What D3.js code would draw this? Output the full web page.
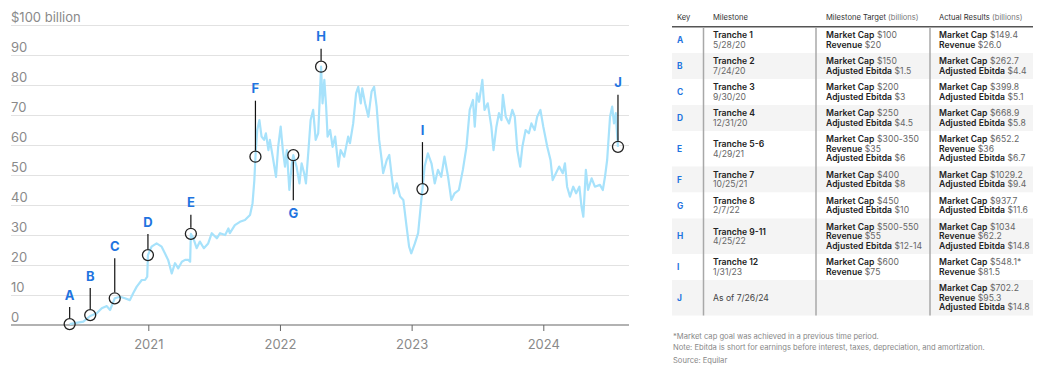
<!DOCTYPE html>
<html>
<head>
<meta charset="utf-8">
<script src="https://cdn.jsdelivr.net/npm/d3@7"></script>
<style>
  body { margin: 0; background: #fff; }
  svg text { font-family: Inter, "Liberation Sans", sans-serif; }
</style>
</head>
<body>
<div class="viz"></div>
<script>
//////////////////////////
// Data
//////////////////////////

// line series, values in the chart's y units
const seriesDates = [
    '2020-05-28', '2020-06-11', '2020-07-05', '2020-07-24', '2020-08-11', '2020-08-25', '2020-09-08', '2020-09-17', '2020-09-30',
    '2020-10-15', '2020-10-28', '2020-11-11', '2020-11-20', '2020-11-30', '2020-12-14', '2020-12-23', '2020-12-29', '2020-12-31',
    '2021-01-10', '2021-01-24', '2021-02-07', '2021-02-16', '2021-02-25', '2021-03-07', '2021-03-16', '2021-03-25', '2021-04-04',
    '2021-04-13', '2021-04-22', '2021-04-27', '2021-04-29', '2021-05-06', '2021-05-15', '2021-05-24', '2021-06-04', '2021-06-16',
    '2021-06-26', '2021-07-10', '2021-07-19', '2021-08-02', '2021-08-11', '2021-08-15', '2021-08-29', '2021-09-12', '2021-09-26',
    '2021-10-10', '2021-10-17', '2021-10-22', '2021-10-25', '2021-10-30', '2021-11-05', '2021-11-11', '2021-11-18', '2021-11-23',
    '2021-11-30', '2021-12-04', '2021-12-12', '2021-12-21', '2021-12-27', '2022-01-03', '2022-01-09', '2022-01-15', '2022-01-20',
    '2022-01-27', '2022-02-03', '2022-02-07', '2022-02-16', '2022-02-24', '2022-03-02', '2022-03-09', '2022-03-14', '2022-03-21',
    '2022-03-27', '2022-04-03', '2022-04-10', '2022-04-17', '2022-04-25', '2022-04-29', '2022-05-04', '2022-05-09', '2022-05-13',
    '2022-05-20', '2022-05-27', '2022-06-03', '2022-06-12', '2022-06-18', '2022-06-28', '2022-07-09', '2022-07-14', '2022-07-23',
    '2022-07-31', '2022-08-06', '2022-08-13', '2022-08-17', '2022-08-25', '2022-09-03', '2022-09-12', '2022-09-19', '2022-09-26',
    '2022-10-03', '2022-10-10', '2022-10-14', '2022-10-24', '2022-10-31', '2022-11-07', '2022-11-13', '2022-11-21', '2022-11-30',
    '2022-12-09', '2022-12-18', '2022-12-25', '2022-12-31', '2023-01-10', '2023-01-19', '2023-01-26', '2023-01-31', '2023-02-06',
    '2023-02-15', '2023-02-25', '2023-03-06', '2023-03-15', '2023-03-24', '2023-04-02', '2023-04-12', '2023-04-21', '2023-04-30',
    '2023-05-12', '2023-05-23', '2023-06-02', '2023-06-11', '2023-06-20', '2023-06-25', '2023-07-01', '2023-07-07', '2023-07-16',
    '2023-07-22', '2023-07-31', '2023-08-10', '2023-08-16', '2023-08-24', '2023-08-31', '2023-09-07', '2023-09-11', '2023-09-19',
    '2023-09-28', '2023-10-07', '2023-10-14', '2023-10-21', '2023-10-29', '2023-11-04', '2023-11-13', '2023-11-22', '2023-11-29',
    '2023-12-08', '2023-12-15', '2023-12-24', '2024-01-01', '2024-01-12', '2024-01-21', '2024-01-27', '2024-02-05', '2024-02-14',
    '2024-02-24', '2024-03-01', '2024-03-07', '2024-03-15', '2024-03-24', '2024-04-01', '2024-04-10', '2024-04-16', '2024-04-21',
    '2024-04-28', '2024-05-04', '2024-05-14', '2024-05-23', '2024-06-06', '2024-06-14', '2024-06-20', '2024-06-26', '2024-07-04',
    '2024-07-10', '2024-07-15', '2024-07-20', '2024-07-24', '2024-07-26'
];
const seriesValues = [
    0.3, 0.6, 1.1, 3.0, 3.9, 5.6, 6.3, 5.0, 8.9,
    9.4, 8.9, 8.3, 10.6, 12.8, 15.0, 15.0, 16.1, 23.3,
    26.1, 27.2, 26.1, 23.9, 21.7, 17.2, 20.6, 18.9, 21.1,
    21.7, 21.7, 21.1, 30.4, 28.9, 25.6, 27.8, 25.6, 27.2,
    30.6, 28.9, 30.6, 30.0, 32.2, 30.6, 33.3, 34.4, 35.0,
    36.7, 40.6, 48.3, 56.1, 65.0, 68.3, 62.8, 61.7, 63.9,
    58.3, 61.7, 56.1, 49.4, 59.4, 66.1, 58.3, 52.8, 58.3,
    45.0, 53.9, 56.6, 52.8, 47.2, 53.9, 50.6, 47.2, 58.3,
    68.3, 71.7, 61.7, 63.9, 86.1, 73.9, 81.7, 72.8, 62.8,
    65.0, 59.4, 62.8, 52.8, 58.3, 56.1, 62.8, 60.6, 67.2,
    77.2, 79.4, 73.9, 78.9, 73.9, 69.4, 77.8, 79.4, 72.8,
    61.7, 55.0, 50.6, 55.0, 56.7, 49.4, 43.9, 47.2, 42.8,
    41.7, 32.8, 26.1, 23.9, 27.2, 30.6, 39.4, 45.3, 52.8,
    57.2, 53.9, 47.2, 51.7, 49.4, 56.1, 49.4, 41.7, 43.9,
    45.0, 51.7, 59.4, 71.7, 75.0, 66.1, 77.2, 74.4, 81.7,
    71.7, 73.9, 66.1, 58.3, 66.1, 70.6, 68.3, 76.7, 69.4,
    67.2, 71.7, 69.4, 58.3, 52.8, 59.4, 65.0, 63.9, 67.2,
    65.0, 69.4, 71.7, 66.1, 59.4, 55.0, 48.3, 50.6, 52.8,
    50.6, 53.9, 46.1, 42.8, 46.1, 43.9, 46.1, 39.4, 36.1,
    51.7, 45.0, 48.9, 46.1, 46.7, 45.0, 49.4, 55.0, 69.4,
    72.8, 67.2, 70.6, 62.8, 59.4
];

// milestones marked on the line
const milestoneKeys = ['A', 'B', 'C', 'D', 'E', 'F', 'G', 'H', 'I', 'J'];
const milestoneDates = ['2020-05-28', '2020-07-24', '2020-09-30', '2020-12-31', '2021-04-29',
    '2021-10-25', '2022-02-07', '2022-04-25', '2023-01-31', '2024-07-26'];
const milestoneValues = [0.3, 3.3, 8.9, 23.3, 30.4, 56.1, 56.6, 86.1, 45.3, 59.4];

// axis ticks
const yTicks = [0, 10, 20, 30, 40, 50, 60, 70, 80, 90, 100];
const yTopLabel = '$100 billion';
const xTickYears = [2021, 2022, 2023, 2024];

// table
const tableHeaders = ['Key', 'Milestone', 'Milestone Target', 'Actual Results'];
const trancheNames = ['Tranche 1', 'Tranche 2', 'Tranche 3', 'Tranche 4', 'Tranche 5-6',
    'Tranche 7', 'Tranche 8', 'Tranche 9-11', 'Tranche 12', 'As of 7/26/24'];
const trancheDates = ['5/28/20', '7/24/20', '9/30/20', '12/31/20', '4/29/21',
    '10/25/21', '2/7/22', '4/25/22', '1/31/23', ''];
const targets = [
    [['Market Cap', '$100'], ['Revenue', '$20']],
    [['Market Cap', '$150'], ['Adjusted Ebitda', '$1.5']],
    [['Market Cap', '$200'], ['Adjusted Ebitda', '$3']],
    [['Market Cap', '$250'], ['Adjusted Ebitda', '$4.5']],
    [['Market Cap', '$300-350'], ['Revenue', '$35'], ['Adjusted Ebitda', '$6']],
    [['Market Cap', '$400'], ['Adjusted Ebitda', '$8']],
    [['Market Cap', '$450'], ['Adjusted Ebitda', '$10']],
    [['Market Cap', '$500-550'], ['Revenue', '$55'], ['Adjusted Ebitda', '$12-14']],
    [['Market Cap', '$600'], ['Revenue', '$75']],
    []
];
const actuals = [
    [['Market Cap', '$149.4'], ['Revenue', '$26.0']],
    [['Market Cap', '$262.7'], ['Adjusted Ebitda', '$4.4']],
    [['Market Cap', '$399.8'], ['Adjusted Ebitda', '$5.1']],
    [['Market Cap', '$668.9'], ['Adjusted Ebitda', '$5.8']],
    [['Market Cap', '$652.2'], ['Revenue', '$36'], ['Adjusted Ebitda', '$6.7']],
    [['Market Cap', '$1029.2'], ['Adjusted Ebitda', '$9.4']],
    [['Market Cap', '$937.7'], ['Adjusted Ebitda', '$11.6']],
    [['Market Cap', '$1034'], ['Revenue', '$62.2'], ['Adjusted Ebitda', '$14.8']],
    [['Market Cap', '$548.1*'], ['Revenue', '$81.5']],
    [['Market Cap', '$702.2'], ['Revenue', '$95.3'], ['Adjusted Ebitda', '$14.8']]
];
const footNotes = [
    '*Market cap goal was achieved in a previous time period.',
    'Note: Ebitda is short for earnings before interest, taxes, depreciation, and amortization.',
    'Source: Equilar'
];

//////////////////////////
// D3 Stuff
//////////////////////////

const parseDate = d3.utcParse('%Y-%m-%d');
const BLUE = '#1f74e0';

const svg = d3.select('div.viz')
    .append('svg')
    .attr('width', 1040)
    .attr('height', 366);

// plot extents
const plotLeft = 11;
const plotRight = 629;

// x scale anchored on the year ticks
const xScale = d3.scaleUtc()
    .domain([Date.UTC(2021, 0, 1), Date.UTC(2024, 0, 1)])
    .range([148.3, 543.3]);

const yScale = d3.scaleLinear()
    .domain([0, 100])
    .range([325, 25]);

// y grid + labels
const yAxis = svg.append('g')
    .attr('class', 'y-axis')
    .attr('transform', 'translate(' + plotRight + ',0)')
    .call(d3.axisLeft(yScale)
        .tickValues(yTicks)
        .tickSize(plotRight - plotLeft)
        .tickFormat((d) => d === 100 ? yTopLabel : d));

yAxis.select('.domain').remove();
yAxis.selectAll('.tick line')
    .attr('stroke', (d) => d === 0 ? 'none' : '#e2e2e2')
    .attr('stroke-width', 1);
yAxis.selectAll('.tick text')
    .attr('x', -(plotRight - plotLeft))
    .attr('dy', -4)
    .attr('text-anchor', 'start')
    .attr('fill', '#8a8a8a')
    .attr('font-size', 13)
    .attr('font-family', 'Inter, sans-serif');

// x axis
const xAxis = svg.append('g')
    .attr('class', 'x-axis')
    .attr('transform', 'translate(0,' + yScale(0) + ')')
    .call(d3.axisBottom(xScale)
        .tickValues(xTickYears.map((yr) => Date.UTC(yr, 0, 1)))
        .tickSize(6)
        .tickFormat(d3.utcFormat('%Y')));

xAxis.select('.domain').remove();
xAxis.selectAll('.tick line').attr('stroke', '#666');
xAxis.selectAll('.tick text')
    .attr('y', 15)
    .attr('fill', '#8a8a8a')
    .attr('font-size', 13)
    .attr('font-family', 'Inter, sans-serif');

xAxis.append('line')
    .attr('x1', plotLeft)
    .attr('x2', plotRight)
    .attr('stroke', '#666')
    .attr('stroke-width', 1.2);

// line
const lineData = seriesDates.map((d, i) => ({ date: parseDate(d), value: seriesValues[i] }));

svg.append('path')
    .datum(lineData)
    .attr('fill', 'none')
    .attr('stroke', '#a7e2fb')
    .attr('stroke-width', 2.2)
    .attr('stroke-linejoin', 'round')
    .attr('d', d3.line()
        .x((d) => xScale(d.date))
        .y((d) => yScale(d.value)));

// milestone markers; label offset in px from the circle (negative = above)
const labelOffset = { A: -29, B: -39, C: -52, D: -33, E: -31, F: -68, G: 58, H: -30, I: -59, J: -64 };

const milestones = milestoneKeys.map((k, i) => ({
    key: k,
    cx: xScale(parseDate(milestoneDates[i])),
    cy: yScale(milestoneValues[i]),
    off: labelOffset[k]
}));

const mGroup = svg.append('g').attr('class', 'milestones')
    .selectAll('g')
    .data(milestones)
    .enter()
    .append('g')
    .attr('transform', (d) => 'translate(' + d.cx + ',' + d.cy + ')');

mGroup.append('line')
    .attr('x1', 0).attr('x2', 0)
    .attr('y1', (d) => d.off < 0 ? -6 : 6)
    .attr('y2', (d) => d.off < 0 ? d.off + 12 : d.off - 13)
    .attr('stroke', '#111')
    .attr('stroke-width', 1.2);

mGroup.append('circle')
    .attr('r', 5.5)
    .attr('fill', 'none')
    .attr('stroke', '#222')
    .attr('stroke-width', 1.3);

mGroup.append('text')
    .attr('y', (d) => d.off + 4.6)
    .attr('text-anchor', 'middle')
    .attr('fill', BLUE)
    .attr('font-size', 13)
    .attr('font-weight', 700)
    .text((d) => d.key);

//////////////////////////
// Table
//////////////////////////

const tLeft = 672;
const tRight = 1033;
const colX = [677, 713, 826, 939];
const sepX = [703.5, 816, 930];
const lineH = 9.5;
const headerY = 26.7;
const cellFont = 8.6;

const rows = milestoneKeys.map((k, i) => {
    const nameLines = trancheDates[i] ? 2 : 1;
    return {
        key: k,
        name: trancheNames[i],
        date: trancheDates[i],
        target: targets[i],
        actual: actuals[i],
        n: Math.max(nameLines, targets[i].length, actuals[i].length)
    };
});
let yCursor = headerY + 0.3;
rows.forEach((r, i) => {
    r.h = r.n * lineH + 7;
    r.y = yCursor;
    r.i = i;
    yCursor += r.h;
});
const tableBottom = yCursor;

const table = svg.append('g').attr('class', 'table');

// header
table.selectAll('text.head')
    .data(tableHeaders)
    .enter()
    .append('text')
    .attr('class', 'head')
    .attr('x', (d, i) => colX[i])
    .attr('y', 20)
    .attr('font-size', 7.6)
    .attr('fill', '#333')
    .text((d) => d)
    .filter((d, i) => i >= 2)
    .append('tspan')
    .attr('fill', '#777')
    .text(' (billions)');

// row backgrounds
const rowG = table.selectAll('g.row')
    .data(rows)
    .enter()
    .append('g')
    .attr('class', 'row')
    .attr('transform', (d) => 'translate(0,' + d.y + ')');

rowG.append('rect')
    .attr('x', tLeft)
    .attr('width', tRight - tLeft)
    .attr('height', (d) => d.h)
    .attr('fill', (d) => d.i % 2 ? '#f4f4f4' : '#fff');

// baseline for line k of n, centred in the row
const lineY = (d, k, n) => d.h / 2 + (k - (n - 1) / 2) * lineH + 3;

rowG.append('text')
    .attr('x', colX[0])
    .attr('y', (d) => lineY(d, 0, 1))
    .attr('font-size', 8.4)
    .attr('font-weight', 700)
    .attr('fill', BLUE)
    .text((d) => d.key);

rowG.each(function(d) {
    const g = d3.select(this);
    const nameN = d.date ? 2 : 1;
    g.append('text')
        .attr('x', colX[1])
        .attr('y', lineY(d, 0, nameN))
        .attr('font-size', cellFont)
        .attr('font-weight', d.date ? 600 : 400)
        .attr('fill', d.date ? '#222' : '#444')
        .text(d.name);
    if (d.date) {
        g.append('text')
            .attr('x', colX[1])
            .attr('y', lineY(d, 1, 2))
            .attr('font-size', cellFont)
            .attr('fill', '#666')
            .text(d.date);
    }
    [d.target, d.actual].forEach((items, c) => {
        items.forEach((it, k) => {
            const t = g.append('text')
                .attr('x', colX[2 + c])
                .attr('y', lineY(d, k, items.length))
                .attr('font-size', cellFont)
                .attr('letter-spacing', 0.05);
            t.append('tspan').attr('font-weight', 600).attr('fill', '#222').text(it[0]);
            t.append('tspan').attr('fill', '#666').text(' ' + it[1]);
        });
    });
});

// header rule and column separators
table.append('line')
    .attr('x1', tLeft).attr('x2', tRight)
    .attr('y1', headerY).attr('y2', headerY)
    .attr('stroke', '#555')
    .attr('stroke-width', 1.6);

table.selectAll('line.sep')
    .data(sepX)
    .enter()
    .append('line')
    .attr('class', 'sep')
    .attr('x1', (d) => d).attr('x2', (d) => d)
    .attr('y1', headerY + 0.8).attr('y2', tableBottom)
    .attr('stroke', '#a8a8a8')
    .attr('stroke-width', 1.5);

// notes
table.selectAll('text.note')
    .data(footNotes)
    .enter()
    .append('text')
    .attr('class', 'note')
    .attr('x', 673)
    .attr('y', (d, i) => [339, 349.5, 362.5][i])
    .attr('font-size', 7.6)
    .attr('fill', '#888')
    .text((d) => d);
</script>
</body>
</html>
